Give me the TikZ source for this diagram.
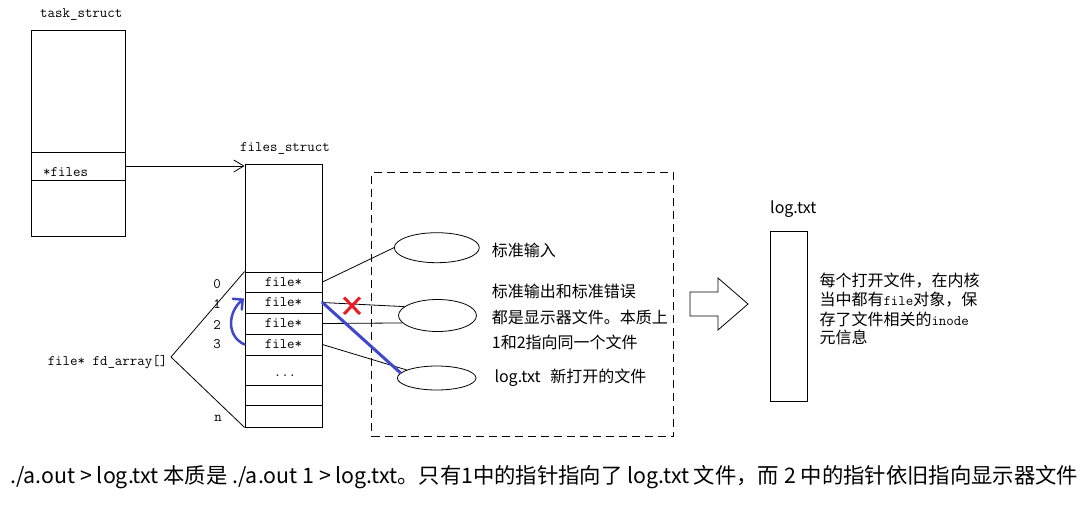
\documentclass[tikz,border=0pt]{standalone}
\usepackage{fontspec}
\newfontfamily\cjk{Noto Sans CJK SC}
\usetikzlibrary{shapes.geometric,arrows.meta}
\definecolor{penblue}{RGB}{63,72,204}
\definecolor{penred}{RGB}{237,28,36}
\newcommand\monof{\ttfamily\fontsize{14.5}{17}\selectfont}
\newcommand\cjkmid{\cjk\fontsize{16}{19}\selectfont}
\newcommand\cjksmall{\cjk\fontsize{16}{19}\selectfont}
\newcommand\cjkbig{\cjk\fontsize{21.35}{25}\selectfont}
\tikzset{
  box/.style={draw, line width=0.9pt, inner sep=0pt},
  cell/.style={box, minimum width=77pt, font=\monof},
  tbox/.style={box, minimum width=94pt},
  lbl/.style={inner sep=0pt, font=\monof},
  ctext/.style={inner sep=0pt, font=\cjkmid, anchor=base west},
  rtext/.style={inner sep=0pt, font=\cjksmall, anchor=base west},
  thin/.style={line width=0.8pt},
  oval/.style={draw, ellipse, line width=0.8pt, inner sep=0pt},
  bluepen/.style={penblue, line width=3pt, line cap=round},
}
\begin{document}
\begin{tikzpicture}[x=1pt,y=-1pt]
\useasboundingbox[fill=white] (0,0) rectangle (1081,517);

% task_struct
\node[lbl, anchor=base west] (tasklbl) at (40,17.5) {task\_struct};
\node[tbox, minimum height=122pt] (tasktop) at (78,91) {};
\node[tbox, minimum height=28pt] (taskmid) at (78,166) {};
\node[tbox, minimum height=56pt] (taskbot) at (78,208) {};
\node[lbl, anchor=base west] (fileslbl) at (43,176) {*files};

% files_struct
\node[lbl, anchor=base west] (fslbl) at (240,151.5) {files\_struct};
\node[cell, minimum height=108pt] (fstop) at (283.5,218) {};
\node[cell, minimum height=20pt] (row0) at (283.5,282) {file*};
\node[cell, minimum height=21pt] (row1) at (283.5,302.5) {file*};
\node[cell, minimum height=21pt] (row2) at (283.5,323.5) {file*};
\node[cell, minimum height=21pt] (row3) at (283.5,344.5) {file*};
\node[cell, minimum height=30pt] (row4) at (283.5,370) {};
\node[lbl] (dots) at (285,376) {...};
\node[cell, minimum height=20pt] (row5) at (283.5,395) {};
\node[cell, minimum height=22pt] (row6) at (283.5,416) {};

% indices
\node[lbl] (i0) at (217,284) {0};
\node[lbl] (i1) at (217,304) {1};
\node[lbl] (i2) at (217,324.5) {2};
\node[lbl] (i3) at (217,344) {3};
\node[lbl] (in) at (218,418) {n};

% fd_array
\node[lbl] (fdlbl) at (107.5,362.5) {file* fd\_array[]};
\coordinate (fdtip) at (171,357);
\draw[thin] (fdtip) -- (row0.north west);
\draw[thin] (fdtip) -- (row6.south west);

% task -> files
\draw[thin, -{Straight Barb[length=10pt,width=12pt]}] (taskmid.east) -- (taskmid.east -| fstop.west);

% dashed box
\node[draw, line width=0.8pt, dash pattern=on 8pt off 5pt, minimum width=302pt, minimum height=264pt, inner sep=0pt] (dbox) at (522.5,304.5) {};

% ellipses
\node[oval, minimum width=85pt, minimum height=30pt] (e1) at (436.8,247.7) {};
\node[oval, minimum width=78pt, minimum height=32pt] (e2) at (437.5,315.5) {};
\node[oval, minimum width=78.6pt, minimum height=24pt] (e3) at (436.7,378) {};

\draw[thin] (row0.east) -- (e1.west);
\draw[thin] (row1.east) -- (e2.165);
\draw[thin] (row2.east) -- (e2.192);
\draw[thin] (row3.east) -- (e3.165);

% blue new pointer
\draw[bluepen] (row1.east) -- (e3.172);

% red cross
\draw[penred, line width=3pt] (344,297.5) -- (360,314);
\draw[penred, line width=3pt] (360,297.5) -- (344,314);

% blue curved arrow
\draw[penblue, line width=2.5pt, line cap=round, -{Straight Barb[length=7pt,width=14pt,line cap=round]}]
  (row3.west) .. controls (226,336) and (228,312) .. (244,298.5);

% dashed box texts
\node[ctext] (t1) at (491.7,256) {标准输入};
\node[ctext] (t2) at (491.7,297) {标准输出和标准错误};
\node[ctext] (t3) at (491.7,323.7) {都是显示器文件。本质上};
\node[ctext] (t4) at (491.7,348.7) {1和2指向同一个文件};
\node[ctext] (t5) at (494.3,382.7) {log.txt\hspace{0.6em}新打开的文件};

% block arrow
\draw[thin] (690,292) -- (718,292) -- (718,278) -- (748,304) -- (718,330) -- (718,316) -- (690,316) -- cycle;

% log.txt
\node[inner sep=0pt, font=\cjkmid] (loglbl) at (793.3,209) {log.txt};
\node[box, minimum width=37.5pt, minimum height=170pt] (logbox) at (789,316) {};

\node[rtext] (r1) at (819.3,286.5) {每个打开文件，在内核};
\node[rtext] (r2) at (819.3,305.5) {当中都有{\monof file}对象，保};
\node[rtext] (r3) at (819.3,325) {存了文件相关的{\monof inode}};
\node[rtext] (r4) at (819.3,343.5) {元信息};

% bottom caption
\node[inner sep=0pt, font=\cjkbig, anchor=base west] (caption) at (10,483)
  {./a.out > log.txt 本质是 ./a.out 1 > log.txt。只有1中的指针指向了 log.txt 文件，而 2 中的指针依旧指向显示器文件};
\end{tikzpicture}
\end{document}
